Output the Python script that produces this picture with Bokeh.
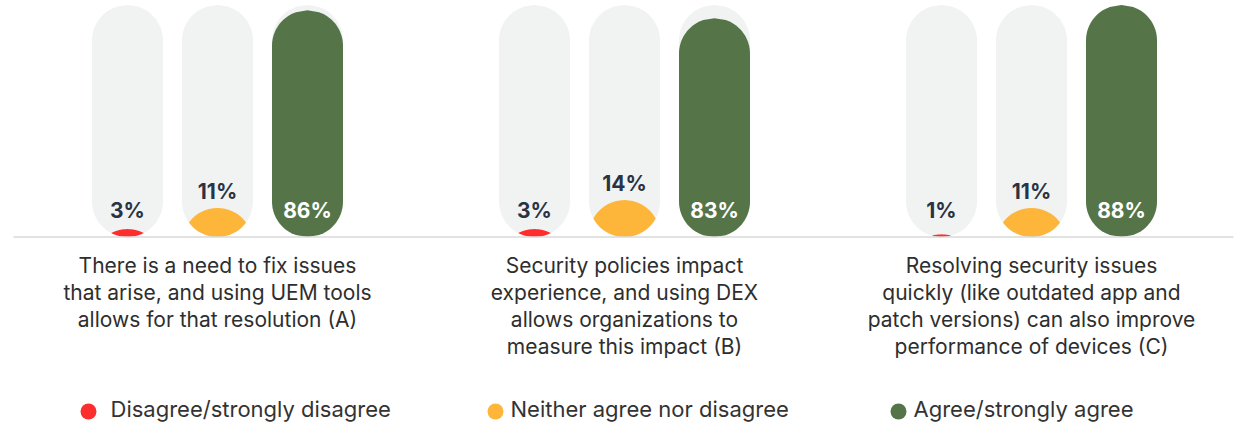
import numpy as np
from bokeh.plotting import figure
from bokeh.models import Range1d
from bokeh.core.properties import value
from bokeh.embed import file_html
from bokeh.resources import INLINE

# ---------------- data ----------------
categories = [
    "There is a need to fix issues\nthat arise, and using UEM tools\nallows for that resolution (A)",
    "Security policies impact\nexperience, and using DEX\nallows organizations to\nmeasure this impact (B)",
    "Resolving security issues\nquickly (like outdated app and\npatch versions) can also improve\nperformance of devices (C)",
]
disagree = [3, 3, 1]
neither = [11, 14, 11]
agree = [86, 83, 88]
series_names = ["Disagree/strongly disagree", "Neither agree nor disagree", "Agree/strongly agree"]
series_colors = ["#FF2E2E", "#FDB53A", "#557548"]

series = [disagree, neither, agree]
MAX = max(max(s) for s in series)

# ---------------- layout ----------------
W, H = 1235, 424
BASE_PX = 236.5          # pixel row of the zero line
TOP_PX = 4.5             # pixel row of the pill top (== MAX)
K = (BASE_PX - TOP_PX) / MAX   # pixels per percentage point


def py(px):
    """pixel row -> data y"""
    return (BASE_PX - px) / K


GROUP_X0, GROUP_STEP, BAR_STEP = 217, 407, 90
BAR_W = 71
R = BAR_W / 2.0
RY = R / K

p = figure(width=W, height=H, x_range=Range1d(0, W), y_range=Range1d(py(H), py(0)),
           output_backend="svg", toolbar_location=None, min_border=0,
           outline_line_color=None, background_fill_color="white",
           border_fill_color="white")
p.axis.visible = False
p.grid.visible = False


def hw_pill(y, top):
    if y < RY:
        d = (RY - y) / RY
    elif y > top - RY:
        d = (y - (top - RY)) / RY
    else:
        return R
    return R * np.sqrt(max(0.0, 1 - d * d))


def hw_dome(y, top):
    if y > top - RY:
        d = (y - (top - RY)) / RY
        return R * np.sqrt(max(0.0, 1 - d * d))
    return R


bg_xs, bg_ys = [], []
fg_xs, fg_ys, fg_c = [], [], []
lab_x, lab_y, lab_t, lab_c = [], [], [], []

for g in range(len(categories)):
    for s, vals in enumerate(series):
        v = vals[g]
        cx = GROUP_X0 + GROUP_STEP * g + BAR_STEP * (s - 1)
        # background pill
        ys = np.linspace(0, MAX, 160)
        hw = np.array([hw_pill(y, MAX) for y in ys])
        bg_xs.append(list(cx - hw) + list((cx + hw)[::-1]))
        bg_ys.append(list(ys) + list(ys[::-1]))
        # coloured part
        ys = np.linspace(0, v, 120)
        hw = np.array([min(hw_pill(y, MAX), hw_dome(y, v)) for y in ys])
        fg_xs.append(list(cx - hw) + list((cx + hw)[::-1]))
        fg_ys.append(list(ys) + list(ys[::-1]))
        fg_c.append(series_colors[s])
        # label
        lab_x.append(cx)
        if s == 2:
            lab_y.append(py(210))
            lab_c.append("white")
        else:
            lab_y.append(max(v + 6.3, py(210)))
            lab_c.append("#2A3344")
        lab_t.append(f"{v}%")

p.patches(bg_xs, bg_ys, fill_color="#F1F3F3", line_color=None)
p.patches(xs=fg_xs, ys=fg_ys, fill_color=fg_c, line_color=None)

# zero line
p.segment(x0=[13], y0=[0], x1=[1233], y1=[0], line_color="#D9D9D9", line_width=1.5)

p.text(x=lab_x, y=lab_y, text=lab_t, text_color=lab_c, text_align="center",
       text_baseline="middle", text_font=value("Inter"), text_font_style="bold",
       text_font_size="21px")

# category labels
cat_x = [GROUP_X0 + GROUP_STEP * g for g in range(len(categories))]
p.text(x=cat_x, y=[py(252)] * len(categories), text=categories, text_color="#2E2E2E",
       text_align="center", text_baseline="top", text_font=value("Inter"),
       text_font_size="21px", text_line_height=1.08)

# legend
leg_dot_x = [88, 495, 898]
leg_txt_x = [110, 510, 913]
p.scatter(x=leg_dot_x, y=[py(411)] * 3, size=16, marker="circle",
          fill_color=series_colors, line_color=None)
p.text(x=leg_txt_x, y=[py(408)] * 3, text=series_names, text_color="#333333",
       text_align="left", text_baseline="middle", text_font=value("Inter"),
       text_font_size="22px")

open("out.html", "w").write(file_html(p, INLINE))
